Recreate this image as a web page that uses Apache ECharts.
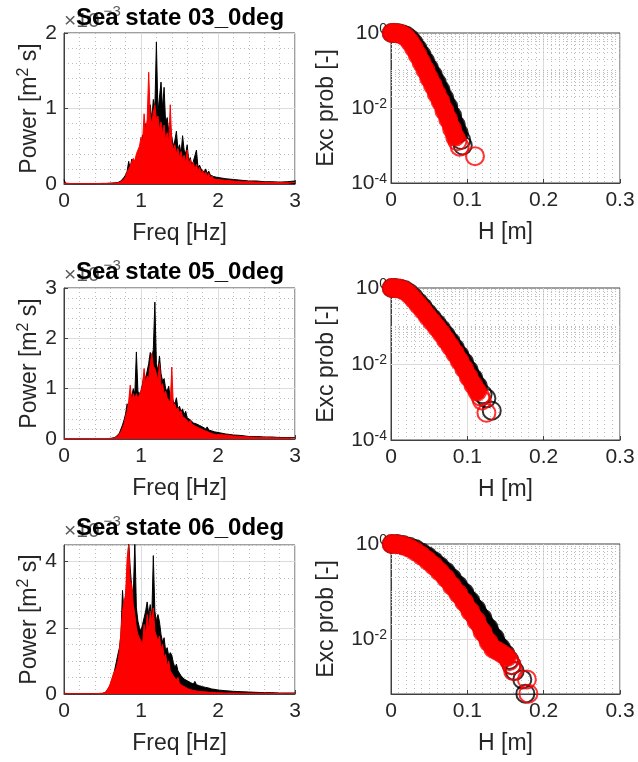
<!DOCTYPE html>
<html><head><meta charset="utf-8">
<script src="https://cdn.jsdelivr.net/npm/echarts@6/dist/echarts.min.js"></script>
<style>html,body{margin:0;padding:0;background:#fff}#c{width:638px;height:762px}</style>
</head><body><div id="c"></div>
<script>
// ---------------- DATA ----------------
const titles = ['Sea state 03_0deg', 'Sea state 05_0deg', 'Sea state 06_0deg'];
const freqTicks = [0, 1, 2, 3];
const hTicks = [0, 0.1, 0.2, 0.3];
// frequency grid [Hz]
const freq = [0, 0.02, 0.1, 0.2, 0.3, 0.4, 0.5,
  0.54, 0.56, 0.58, 0.6, 0.62, 0.64, 0.66, 0.68, 0.7,
  0.72, 0.74, 0.76, 0.78, 0.8, 0.82, 0.84, 0.86, 0.88, 0.9, 0.92, 0.94, 0.96, 0.98,
  1.0, 1.02, 1.04, 1.06, 1.08, 1.1, 1.12, 1.14, 1.16, 1.18,
  1.2, 1.22, 1.24, 1.26, 1.28, 1.3, 1.32, 1.34, 1.36, 1.38,
  1.4, 1.42, 1.44, 1.46, 1.48, 1.5, 1.52, 1.54, 1.56, 1.58,
  1.6, 1.62, 1.64, 1.66, 1.68, 1.7, 1.72, 1.74, 1.76, 1.78,
  1.8, 1.82, 1.84, 1.86, 1.88, 1.9, 1.92, 1.94, 1.96, 1.98,
  2.0, 2.1, 2.2, 2.3, 2.4, 2.5, 2.6, 2.7, 2.8, 2.9, 3.0];
// power spectra, units of 1e-3 m^2 s
const psd03Black = [0.06, 0.01, 0.005, 0.005, 0.005, 0.005, 0.008,
  0.008, 0.01, 0.01, 0.01, 0.012, 0.012, 0.015, 0.018, 0.02,
  0.03, 0.04, 0.06, 0.09, 0.12, 0.17, 0.3, 0.2, 0.33, 0.26, 0.3, 0.36, 0.32, 0.42,
  0.5, 0.65, 0.6, 0.8, 0.7, 0.95, 1.05, 0.85, 1.12, 1.0,
  1.88, 0.95, 1.15, 1.35, 1.0, 1.28, 0.8, 0.88, 0.7, 0.78,
  0.62, 0.5, 0.58, 0.7, 0.45, 0.52, 0.4, 0.64, 0.45, 0.4,
  0.52, 0.3, 0.35, 0.25, 0.3, 0.28, 0.45, 0.22, 0.25, 0.2,
  0.22, 0.16, 0.2, 0.14, 0.17, 0.12, 0.14, 0.1, 0.12, 0.09,
  0.1, 0.07, 0.06, 0.05, 0.04, 0.04, 0.03, 0.03, 0.025, 0.03, 0.04];
const psd03Red = [0.01, 0.01, 0.005, 0.005, 0.005, 0.005, 0.005,
  0.005, 0.005, 0.008, 0.008, 0.01, 0.01, 0.01, 0.012, 0.015,
  0.02, 0.03, 0.04, 0.06, 0.1, 0.16, 0.2, 0.24, 0.3, 0.34, 0.3, 0.4, 0.38, 0.5,
  0.62, 0.55, 0.93, 0.7, 0.85, 1.48, 0.9, 0.8, 0.95, 1.05,
  0.85, 0.9, 0.72, 0.82, 0.66, 0.78, 0.58, 0.68, 0.55, 1.05,
  0.55, 0.45, 0.52, 0.4, 0.47, 0.35, 0.43, 0.32, 0.38, 0.28,
  0.45, 0.25, 0.33, 0.22, 0.29, 0.19, 0.26, 0.17, 0.22, 0.15,
  0.18, 0.12, 0.16, 0.1, 0.14, 0.08, 0.11, 0.07, 0.09, 0.06,
  0.07, 0.05, 0.04, 0.03, 0.03, 0.025, 0.02, 0.02, 0.02, 0.015, 0.02];
const psd05Black = [0.01, 0.01, 0.01, 0.01, 0.01, 0.01, 0.01,
  0.01, 0.01, 0.01, 0.015, 0.015, 0.02, 0.03, 0.05, 0.08,
  0.12, 0.2, 0.28, 0.38, 0.5, 0.7, 0.6, 0.9, 0.85, 1.0, 0.9, 1.73, 0.95, 0.9,
  0.95, 1.1, 1.3, 1.2, 1.35, 1.5, 1.72, 1.6, 1.78, 2.72,
  1.5, 1.35, 1.65, 1.3, 1.15, 1.2, 1.0, 0.95, 1.05, 0.8,
  0.85, 0.75, 0.7, 0.82, 0.6, 0.65, 0.55, 0.6, 0.48, 0.55,
  0.42, 0.45, 0.38, 0.4, 0.32, 0.35, 0.3, 0.33, 0.27, 0.28,
  0.24, 0.25, 0.2, 0.24, 0.18, 0.2, 0.16, 0.17, 0.14, 0.15,
  0.13, 0.1, 0.08, 0.07, 0.05, 0.05, 0.04, 0.04, 0.03, 0.03, 0.03];
const psd05Red = [0.01, 0.01, 0.01, 0.01, 0.01, 0.01, 0.01,
  0.01, 0.01, 0.01, 0.01, 0.012, 0.015, 0.02, 0.04, 0.06,
  0.1, 0.15, 0.22, 0.3, 0.45, 0.55, 0.75, 1.07, 0.75, 0.9, 0.8, 0.9, 0.8, 0.88,
  0.9, 1.05, 1.4, 1.1, 1.25, 1.2, 1.5, 1.7, 1.45, 1.4,
  1.3, 1.15, 1.5, 1.05, 1.1, 0.9, 0.95, 0.82, 0.85, 0.72,
  1.43, 0.66, 0.7, 0.58, 0.62, 0.52, 0.56, 0.45, 0.48, 0.4,
  0.4, 0.33, 0.37, 0.3, 0.32, 0.26, 0.29, 0.23, 0.25, 0.2,
  0.22, 0.17, 0.2, 0.15, 0.17, 0.12, 0.14, 0.1, 0.12, 0.09,
  0.1, 0.08, 0.06, 0.05, 0.04, 0.035, 0.03, 0.025, 0.02, 0.02, 0.02];
const psd06Black = [0.02, 0.01, 0.01, 0.01, 0.01, 0.01, 0.02,
  0.05, 0.1, 0.18, 0.27, 0.4, 0.55, 0.75, 0.97, 1.2,
  1.4, 1.8, 3.13, 2.4, 2.9, 3.6, 4.6, 3.8, 3.2, 3.0, 4.6, 2.6, 2.2, 2.0,
  1.9, 2.1, 2.3, 2.5, 2.78, 2.4, 2.7, 2.3, 4.18, 2.5,
  2.2, 2.4, 2.18, 1.8, 1.57, 1.7, 1.3, 1.4, 1.15, 1.25,
  1.17, 0.95, 0.8, 0.9, 0.7, 0.65, 0.55, 0.6, 0.45, 0.5,
  0.4, 0.42, 0.35, 0.4, 0.3, 0.38, 0.28, 0.33, 0.25, 0.3,
  0.22, 0.25, 0.2, 0.22, 0.18, 0.2, 0.15, 0.17, 0.14, 0.15,
  0.12, 0.1, 0.08, 0.07, 0.06, 0.05, 0.04, 0.04, 0.03, 0.03, 0.03];
const psd06Red = [0.01, 0.01, 0.01, 0.01, 0.01, 0.01, 0.02,
  0.05, 0.1, 0.2, 0.3, 0.45, 0.6, 0.7, 0.8, 1.0,
  1.3, 1.9, 2.5, 2.8, 3.0, 4.1, 4.5, 3.4, 3.3, 2.7, 2.4, 2.0, 1.8, 1.7,
  1.6, 1.5, 2.1, 1.8, 2.4, 1.9, 2.5, 2.2, 2.6, 1.9,
  1.9, 1.6, 1.75, 1.35, 1.5, 1.1, 1.2, 0.85, 1.0, 0.7,
  0.75, 0.55, 0.6, 0.42, 0.5, 0.32, 0.38, 0.25, 0.3, 0.2,
  0.24, 0.15, 0.2, 0.12, 0.16, 0.1, 0.13, 0.08, 0.1, 0.07,
  0.08, 0.07, 0.07, 0.06, 0.06, 0.05, 0.05, 0.05, 0.04, 0.04,
  0.04, 0.03, 0.03, 0.025, 0.02, 0.02, 0.02, 0.015, 0.015, 0.01, 0.01];
// exceedance probability: wave height H [m] and probability [-]
const h03Black = [0.001, 0.005, 0.010, 0.015, 0.020, 0.025, 0.030, 0.035, 0.040, 0.045, 0.050, 0.055, 0.060, 0.065, 0.070, 0.075, 0.080, 0.085, 0.089, 0.092, 0.094];
const p03Black = [1.0, 0.997, 0.98, 0.93, 0.84, 0.7, 0.53, 0.38, 0.26, 0.175, 0.115, 0.075, 0.048, 0.03, 0.018, 0.011, 0.0063, 0.0035, 0.0021, 0.0014, 0.001];
const h03Red = [0.001, 0.005, 0.010, 0.015, 0.020, 0.025, 0.030, 0.035, 0.040, 0.045, 0.050, 0.055, 0.060, 0.065, 0.070, 0.075, 0.080, 0.084, 0.087, 0.090, 0.110];
const p03Red = [1.0, 0.995, 0.97, 0.9, 0.77, 0.58, 0.4, 0.26, 0.165, 0.105, 0.063, 0.04, 0.024, 0.015, 0.0085, 0.005, 0.0028, 0.0017, 0.0013, 0.00093, 0.00052];
const h05Black = [0.001, 0.006, 0.012, 0.018, 0.024, 0.030, 0.036, 0.042, 0.048, 0.054, 0.060, 0.066, 0.072, 0.078, 0.084, 0.090, 0.096, 0.102, 0.108, 0.114, 0.120, 0.125, 0.132];
const p05Black = [1.0, 0.995, 0.96, 0.88, 0.74, 0.57, 0.42, 0.31, 0.22, 0.16, 0.115, 0.082, 0.057, 0.039, 0.026, 0.017, 0.011, 0.0068, 0.0042, 0.0026, 0.0016, 0.00125, 0.00059];
const h05Red = [0.001, 0.006, 0.012, 0.018, 0.024, 0.030, 0.036, 0.042, 0.048, 0.054, 0.060, 0.066, 0.072, 0.078, 0.084, 0.090, 0.096, 0.102, 0.108, 0.113, 0.117, 0.119, 0.125];
const p05Red = [1.0, 0.99, 0.95, 0.85, 0.68, 0.5, 0.36, 0.26, 0.18, 0.13, 0.092, 0.065, 0.043, 0.029, 0.019, 0.012, 0.0075, 0.0045, 0.0028, 0.0019, 0.0014, 0.0011, 0.00052];
const h06Black = [0.001, 0.008, 0.016, 0.024, 0.032, 0.040, 0.048, 0.056, 0.064, 0.072, 0.080, 0.088, 0.096, 0.104, 0.112, 0.120, 0.128, 0.136, 0.144, 0.150, 0.155, 0.158, 0.162, 0.172, 0.176];
const p06Black = [1.0, 0.995, 0.95, 0.88, 0.78, 0.66, 0.55, 0.44, 0.34, 0.26, 0.19, 0.135, 0.095, 0.063, 0.042, 0.027, 0.017, 0.0105, 0.0065, 0.0048, 0.0036, 0.0028, 0.0021, 0.0014, 0.0007];
const h06Red = [0.001, 0.008, 0.016, 0.024, 0.032, 0.040, 0.048, 0.056, 0.064, 0.072, 0.080, 0.088, 0.096, 0.104, 0.112, 0.120, 0.128, 0.134, 0.140, 0.146, 0.152, 0.155, 0.158, 0.160, 0.178, 0.180];
const p06Red = [1.0, 0.99, 0.93, 0.83, 0.7, 0.57, 0.45, 0.35, 0.26, 0.19, 0.13, 0.09, 0.06, 0.038, 0.024, 0.014, 0.0085, 0.0062, 0.0055, 0.0048, 0.0041, 0.0034, 0.0028, 0.0021, 0.0014, 0.0007];

// ---------------- LAYOUT / STYLE ----------------
const FONT = '"Liberation Sans", Arial, Helvetica, sans-serif';
const TXT = '#262626', AXL = '#404040', MAJ = '#dcdcdc', MIN = '#bdbdbd';
const psdMax = [2, 3, 4.5], psdInterval = [1, 1, 2], psdMinorSplit = [5, 5, 4];
const probMin = [1e-4, 1e-4, 0.00069];
const bandMinP = [0.0015, 0.0017, 0.004];
const leftBox = [[64, 33, 231, 151], [64, 288, 231, 151], [64, 545, 231, 149]];
const rightBox = [[391, 33, 229, 150], [391, 288, 229, 152], [391, 544, 229, 150]];
const titleY = [18, 272, 528];

const rows = [
  {blk: psd03Black, red: psd03Red, hB: h03Black, pB: p03Black, hR: h03Red, pR: p03Red},
  {blk: psd05Black, red: psd05Red, hB: h05Black, pB: p05Black, hR: h05Red, pR: p05Red},
  {blk: psd06Black, red: psd06Red, hB: h06Black, pB: p06Black, hR: h06Red, pR: p06Red}
];
const pairs = (xs, ys) => xs.map((x, i) => [x, ys[i]]);

const grids = [], xAxes = [], yAxes = [], series = [], graphics = [];
const nameStyle = {color: TXT, fontSize: 23, fontFamily: FONT};
const tickLbl = {color: TXT, fontSize: 21, fontFamily: FONT};

function logLabel(v) {
  const l = Math.log10(v), e = Math.round(l);
  if (Math.abs(l - e) > 0.01 || e % 2 !== 0) return '';
  return '{b|10}{s|' + e + '}';
}
function logGridLines(minP) {
  const out = [];
  for (let d = -4; d <= -1; d++) for (let m = 1; m <= 9; m++) {
    const v = m * Math.pow(10, d);
    if (v <= minP * 1.0001) continue;
    const major = (m === 1 && d === -2);
    out.push({yAxis: v, lineStyle: major ? {color: MAJ, type: 'solid', width: 1} : {color: MIN, type: [1, 3], width: 1}});
  }
  return out;
}

rows.forEach((r, i) => {
  const gl = 2 * i, gr = 2 * i + 1;
  const lb = leftBox[i], rb = rightBox[i];
  grids.push({left: lb[0], top: lb[1], width: lb[2], height: lb[3], show: true, borderColor: AXL, borderWidth: 1});
  grids.push({left: rb[0], top: rb[1], width: rb[2], height: rb[3], show: true, borderColor: AXL, borderWidth: 1});
  // spectrum axes
  xAxes[gl] = {gridIndex: gl, type: 'value', min: freqTicks[0], max: freqTicks[freqTicks.length - 1], interval: 1,
    axisLine: {show: true, onZero: false, lineStyle: {color: AXL}},
    axisTick: {show: true, inside: true, length: 4, lineStyle: {color: AXL}},
    axisLabel: Object.assign({margin: 7}, tickLbl),
    splitLine: {show: true, lineStyle: {color: MAJ, width: 1}},
    minorTick: {show: false, splitNumber: 5},
    minorSplitLine: {show: true, lineStyle: {color: MIN, type: [1, 3], width: 1}},
    name: 'Freq [Hz]', nameLocation: 'middle', nameGap: 38, nameTextStyle: nameStyle};
  yAxes[gl] = {gridIndex: gl, type: 'value', min: 0, max: psdMax[i], interval: psdInterval[i],
    axisLine: {show: true, onZero: false, lineStyle: {color: AXL}},
    axisTick: {show: true, inside: true, length: 4, lineStyle: {color: AXL}},
    axisLabel: Object.assign({margin: 7, showMaxLabel: psdMax[i] % psdInterval[i] === 0}, tickLbl),
    splitLine: {show: true, lineStyle: {color: MAJ, width: 1}},
    minorTick: {show: false, splitNumber: psdMinorSplit[i]},
    minorSplitLine: {show: psdMax[i] % psdInterval[i] === 0, lineStyle: {color: MIN, type: [1, 3], width: 1}},
    name: '{b|Power [m}{s|2}{b| s]}', nameLocation: 'middle', nameGap: 22,
    nameTextStyle: {color: TXT, fontFamily: FONT, fontSize: 23, rich: {
      b: {color: TXT, fontFamily: FONT, fontSize: 23, lineHeight: 26, verticalAlign: 'bottom'},
      s: {color: TXT, fontFamily: FONT, fontSize: 16, lineHeight: 16, verticalAlign: 'top'}}}};
  // exceedance axes
  xAxes[gr] = {gridIndex: gr, type: 'value', min: hTicks[0], max: hTicks[hTicks.length - 1], interval: 0.1,
    axisLine: {show: true, onZero: false, lineStyle: {color: AXL}},
    axisTick: {show: true, inside: true, length: 4, lineStyle: {color: AXL}},
    axisLabel: Object.assign({margin: 7}, tickLbl),
    splitLine: {show: true, lineStyle: {color: MAJ, width: 1}},
    minorTick: {show: false, splitNumber: 10},
    minorSplitLine: {show: true, lineStyle: {color: MIN, type: [1, 3], width: 1}},
    name: 'H [m]', nameLocation: 'middle', nameGap: 38, nameTextStyle: nameStyle};
  yAxes[gr] = {gridIndex: gr, type: 'log', logBase: 10, min: probMin[i], max: 1, splitNumber: 3,
    axisLine: {show: true, onZero: false, lineStyle: {color: AXL}},
    axisTick: {show: false},
    splitLine: {show: false},
    axisLabel: {margin: 4, formatter: logLabel, rich: {
      b: {color: TXT, fontFamily: FONT, fontSize: 21, lineHeight: 22, verticalAlign: 'bottom'},
      s: {color: TXT, fontFamily: FONT, fontSize: 14, lineHeight: 14, verticalAlign: 'top'}}},
    name: 'Exc prob [-]', nameLocation: 'middle', nameGap: 53, nameTextStyle: nameStyle};

  // spectra
  series.push({type: 'line', xAxisIndex: gl, yAxisIndex: gl, data: pairs(freq, r.blk), symbol: 'none', silent: true, z: 3,
    lineStyle: {color: '#000', width: 1}, areaStyle: {color: '#000', opacity: 1}});
  series.push({type: 'line', xAxisIndex: gl, yAxisIndex: gl, data: pairs(freq, r.red), symbol: 'none', silent: true, z: 4,
    lineStyle: {color: '#ff0000', width: 1}, areaStyle: {color: '#ff0000', opacity: 1}});
  // log grid lines
  series.push({type: 'line', xAxisIndex: gr, yAxisIndex: gr, data: [], silent: true, z: 1,
    markLine: {silent: true, symbol: ['none', 'none'], label: {show: false}, animation: false, z: 1, data: logGridLines(probMin[i])}});
  // exceedance: black then red
  [['#000000', r.hB, r.pB, 3], ['#ff0000', r.hR, r.pR, 5]].forEach(([col, hs, ps, z]) => {
    const all = pairs(hs, ps);
    series.push({type: 'line', xAxisIndex: gr, yAxisIndex: gr, data: all.filter(d => d[1] >= bandMinP[i]),
      symbol: 'none', silent: true, clip: false, z: z, lineStyle: {color: col, width: 17, cap: 'round', join: 'round'}});
    series.push({type: 'scatter', xAxisIndex: gr, yAxisIndex: gr, data: all, symbol: 'circle', symbolSize: 18,
      silent: true, clip: false, z: z + 1, itemStyle: {color: 'rgba(0,0,0,0)', borderColor: col, borderWidth: 2}});
  });

  // exponent label and title
  graphics.push({type: 'text', x: 64, y: titleY[i] + 14, z: 10, silent: true,
    style: {text: '{a|\u00d710}{b|\u22123}', align: 'left', verticalAlign: 'bottom', fill: '#5a5a5a',
      rich: {a: {fontSize: 21, fontFamily: FONT, fill: '#5a5a5a', lineHeight: 28, verticalAlign: 'bottom'},
             b: {fontSize: 15, fontFamily: FONT, fill: '#5a5a5a', lineHeight: 15, verticalAlign: 'top', padding: [0, 0, 0, 4]}}}});
  graphics.push({type: 'text', x: 180, y: titleY[i], z: 11, silent: true,
    style: {text: titles[i], align: 'center', verticalAlign: 'middle', fill: '#000',
      fontSize: 24, fontWeight: 'bold', fontFamily: FONT}});
});

// hidden helper axis for the dotted minor grid of the last spectrum (0.5 steps)
yAxes.push({gridIndex: 4, type: 'value', min: 0, max: psdMax[2], interval: 0.5, position: 'left',
  axisLine: {show: false}, axisTick: {show: false}, axisLabel: {show: false},
  splitLine: {show: true, lineStyle: {color: ['rgba(0,0,0,0)', MIN, MIN, MIN], type: [1, 3], width: 1}}});

const chart = echarts.init(document.getElementById('c'), null, {renderer: 'canvas'});
chart.setOption({
  backgroundColor: '#ffffff',
  animation: false,
  grid: grids, xAxis: xAxes, yAxis: yAxes, series: series, graphic: graphics
});
</script>
</body></html>
